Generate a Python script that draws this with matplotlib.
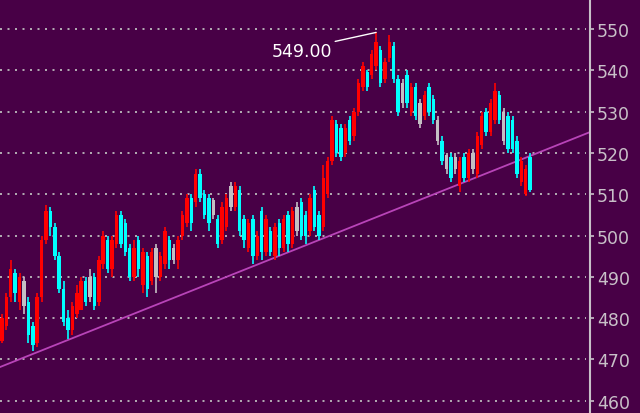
import numpy as np
import matplotlib
matplotlib.use("Agg")
import matplotlib.pyplot as plt

# candle data (one entry per bar, left to right)
opens = [474.5, 478, 485, 491, 484, 489, 484, 478, 474, 485, 499, 506, 502, 495, 487, 480, 477, 481, 482, 489,
         485, 490, 484, 493, 499, 492, 498, 505, 503, 497, 490, 499, 488, 495, 489, 497, 490, 493, 499, 497,
         494, 500, 503, 509, 508, 515, 510, 509, 508.5, 504, 499, 502, 512, 507, 511, 504, 497, 504, 495, 506,
         496, 501, 495, 503, 497, 505, 498, 507, 508, 505, 501, 511, 505, 502, 510, 518, 527, 526, 520, 528,
         524, 530, 536, 539.5, 539, 541, 545, 538, 543, 546, 538, 537, 539, 530, 536, 532, 529, 536, 533, 528,
         523, 519.5, 519, 519, 512, 519, 514, 520, 515, 522, 530, 525, 528, 534, 530, 529, 528, 523, 513, 510,
         519]
closes = [480, 485, 492, 486, 490, 483, 476, 473.5, 485, 499, 506, 502, 495, 487, 479, 477, 483, 486, 489, 484,
          490, 483, 494, 500, 492, 499, 505, 498, 496, 490, 497, 492, 496, 487, 496, 490, 495, 501, 494, 494,
          499, 505, 509, 503, 515, 509, 505, 503, 505, 498, 507, 509, 507, 512, 501, 499, 503, 495, 500, 496,
          504, 496, 502, 497, 504, 498, 506, 501, 500, 500, 509, 502, 500, 514, 518, 528, 520, 519, 526, 523,
          530, 537, 541, 536, 544, 547, 537, 542, 547, 538, 530, 532, 532, 536, 529, 527, 534, 530, 528, 523,
          518, 516, 514, 516, 518, 514, 520, 516, 524, 529, 525, 532, 535, 528, 523, 521, 521, 515, 518, 516,
          511]
highs = [481, 486, 494, 492, 491, 490, 485, 479, 486, 500, 507.5, 507, 503, 496, 489, 482, 484, 488, 490, 490,
         492, 491, 495, 501, 500, 500, 506, 506, 504, 498, 499, 500, 497, 496, 497, 498, 496, 502, 500, 498,
         500, 506, 510, 510, 516, 516, 511, 510, 509, 505, 508, 510, 513, 513, 512, 505, 504, 505, 501, 507,
         505, 502, 503, 504, 505, 506, 507, 508, 509, 506, 510, 512, 506, 517, 519, 529, 528, 527, 527, 529,
         531, 538, 542, 540, 545, 549.2, 546, 543, 548.5, 547, 539, 538, 540, 537, 537, 533, 535, 537, 534, 529,
         524, 520, 520, 520, 519, 520, 521, 521, 525, 530, 531, 533, 537, 535, 531, 530, 529, 524, 519, 517,
         520]
lows = [474, 477, 484, 484, 482, 481, 474, 472, 473, 484, 498, 500, 494, 486, 478, 475, 476, 480, 482, 483,
        484, 482, 483, 492, 491, 490, 497, 497, 495, 489, 489, 490, 486, 485, 488, 486, 489, 492, 492, 493,
        492, 499, 502, 501, 507, 508, 504, 501, 504, 497, 498, 501, 506, 506, 500, 497, 496, 493, 494, 494,
        495, 495, 494, 495, 496, 496, 497, 500, 499, 498, 500, 501, 499, 501, 509, 517, 519, 518, 519, 522,
        523, 529, 535, 535, 538, 540, 536, 537, 542, 537, 529, 531, 531, 529, 528, 526, 528, 529, 527, 522,
        517, 515, 513, 515, 510.5, 513, 513, 515, 514, 521, 524, 524, 527, 527, 522, 520, 520, 514, 512, 509.5,
        510.5]
grey_idx = [5, 20, 35, 39, 48, 52, 67, 91, 95, 99, 101, 103, 107, 114]

# support line through two lows
trend_x = [7, 72]
trend_y = [471.3, 498.9]

peak_label = "549.00"
y_ticks = [460, 470, 480, 490, 500, 510, 520, 530, 540, 550]

bg = "#480046"
up_col = "#ff0000"
down_col = "#00ffff"
flat_col = "#c4c0c4"

n = len(opens)
idx = np.arange(n)
opens = np.array(opens)
closes = np.array(closes)
colors = np.where(closes >= opens, up_col, down_col).astype(object)
colors[grey_idx] = flat_col

fig = plt.figure(figsize=(6.4, 4.14), dpi=100, facecolor=bg)
ax = fig.add_axes([0, 0, 590 / 640, 1])
ax.set_facecolor(bg)

x_left, x_right = -0.45, 133.6
ax.set_xlim(x_left, x_right)
ax.set_ylim(457.0, 557.3)

# grid
for t in y_ticks:
    ax.plot([x_left, 132.6], [t, t], color="#b0a8b0", lw=1.44,
            linestyle=(0, (1, 2.75)), dash_capstyle="butt", zorder=1)

# trend line
slope = (trend_y[1] - trend_y[0]) / (trend_x[1] - trend_x[0])
tx = np.array([x_left, x_right])
ax.plot(tx, trend_y[0] + slope * (tx - trend_x[0]), color="#b844b8", lw=1.3, zorder=2)

# candles
ax.vlines(idx, lows, highs, colors=list(colors), lw=1.2, zorder=3)
bottoms = np.minimum(opens, closes)
heights = np.abs(closes - opens)
ax.bar(idx, heights, bottom=bottoms, width=0.78, color=list(colors), lw=0, zorder=4)

# peak label
peak_i = int(np.argmax(highs))
ax.annotate(peak_label, xy=(peak_i, highs[peak_i]), xytext=(68.2, 544.7),
            ha="center", va="center", color="white", fontsize=12.5,
            arrowprops=dict(arrowstyle="-", color="white", lw=1.0,
                            relpos=(1.0, 1.0), shrinkA=0, shrinkB=0),
            zorder=5)

# right price axis
for s in ["top", "left", "bottom"]:
    ax.spines[s].set_visible(False)
ax.spines["right"].set_color("#c8c0c8")
ax.spines["right"].set_linewidth(1.5)
ax.set_xticks([])
ax.yaxis.tick_right()
ax.set_yticks(y_ticks)
ax.set_yticklabels([str(t) for t in y_ticks])
ax.tick_params(axis="y", colors="#c8c0c8", labelcolor="#c8c0c8", labelsize=12.5,
               length=3, width=1.2, pad=2, direction="out")

fig.savefig("out.png", dpi=100, facecolor=bg)
